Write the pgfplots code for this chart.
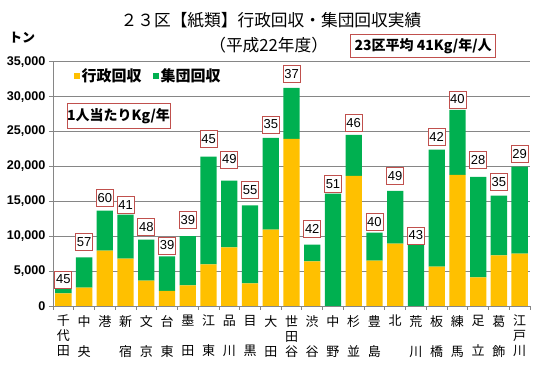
\documentclass[border=0pt]{standalone}
\usepackage{pgfplots}
\pgfplotsset{compat=1.18}
\usepackage{pgfplotstable}
\usepackage{fontspec}
\setmainfont{Liberation Sans}
\newfontfamily\cjk{Noto Sans CJK JP}
\definecolor{yel}{HTML}{FFC000}
\definecolor{grn}{HTML}{00B050}
\definecolor{grd}{HTML}{868686}
\definecolor{bxr}{HTML}{C0504D}
\newcommand\e{\phantom{国}}

\pgfplotstableread{
x gyosei shudan
0 1800 600
1 2650 4300
2 7950 5700
3 6800 6300
4 3650 5850
5 2150 4950
6 2950 7050
7 5950 15450
8 8400 9550
9 3250 11150
10 10950 13150
11 23950 7300
12 6400 2400
13 0 16100
14 18650 5850
15 6500 4000
16 8950 7550
17 0 8800
18 5650 16750
19 18800 9300
20 4100 14400
21 7250 8550
22 7500 12450
}\data

\pgfplotstableread{
x y v
0 3800 45
1 9140 57
2 15500 60
3 14500 41
4 11300 48
5 8670 39
6 12300 39
7 23900 45
8 21000 49
9 16600 55
10 26000 35
11 33300 37
12 11050 42
13 17500 51
14 26200 46
15 12100 40
16 18600 49
17 10100 43
18 24200 42
19 29600 40
20 20900 28
21 17800 35
22 21800 29
}\boxes

\begin{document}
\begin{tikzpicture}
\begin{axis}[name=ax,
  width=477pt, height=244.3pt, scale only axis,
  ybar stacked, bar width=0.786,
  xmin=-0.5, xmax=22.5, ymin=0, ymax=35000,
  axis x line*=bottom, axis y line*=left,
  axis line style={grd, line width=0.75pt, -},
  ytick={0,5000,...,35000},
  ymajorgrids, grid style={grd, line width=0.75pt},
  xtick={0,...,22},
  xticklabels={{千\\代\\田},{中\\\e\\央},{港},{新\\\e\\宿},{文\\\e\\京},{台\\\e\\東},{墨\\\e\\田},{江\\\e\\東},{品\\\e\\川},{目\\\e\\黒},{大\\\e\\田},{世\\田\\谷},{渋\\\e\\谷},{中\\\e\\野},{杉\\\e\\並},{豊\\\e\\島},{北},{荒\\\e\\川},{板\\\e\\橋},{練\\\e\\馬},{足\\\e\\立},{葛\\\e\\飾},{江\\戸\\川}},
  minor xtick={-0.5,0.5,...,22.5},
  major x tick style={draw=none},
  tick style={grd, line width=0.75pt},
  tick align=outside, major tick length=4pt, minor tick length=4pt,
  scaled y ticks=false,
  /pgf/number format/1000 sep={,},
  /pgf/number format/assume math mode=true,
  yticklabel style={font=\bfseries\fontsize{12.6}{14}\selectfont},
  xticklabel style={font=\cjk\fontsize{13}{15}\selectfont, align=center, anchor=north, inner sep=0pt, yshift=-5pt},
  legend columns=2,
  legend style={draw=none, fill=none, at={(rel axis cs:0.044,0.9415)}, anchor=west,
    inner xsep=0pt, inner ysep=0pt,
    font=\cjk\bfseries\fontsize{15}{17}\selectfont,
    nodes={inner sep=1.5pt},
    /tikz/column 2/.style={column sep=10pt}},
  clip=false,
]
\addplot[fill=yel, draw=none, legend image code/.code={\fill[yel] (0pt,-3pt) rectangle (6pt,3pt);}] table[x=x, y=gyosei] {\data};
\addlegendentry{行政回収}
\addplot[fill=grn, draw=none, legend image code/.code={\fill[grn] (0pt,-3pt) rectangle (6pt,3pt);}] table[x=x, y=shudan] {\data};
\addlegendentry{集団回収}
\end{axis}
\begin{axis}[
  width=477pt, height=244.3pt, scale only axis,
  xmin=-0.5, xmax=22.5, ymin=0, ymax=35000,
  hide axis, clip=false,
]
\addplot[draw=none, mark=none, nodes near coords, point meta=explicit symbolic,
  every node near coord/.append style={anchor=center, draw=bxr, fill=white, line width=0.75pt, inner sep=0.5pt, minimum width=17pt, minimum height=17pt, font=\fontsize{13}{15}\selectfont, text=black}]
  table[x=x, y=y, meta=v] {\boxes};
\node[font=\cjk\fontsize{16.7}{20}\selectfont] at (axis cs:10.01,40875) {２３区【紙類】行政回収・集団回収実績};
\node[font=\cjk\fontsize{16.7}{20}\selectfont] at (axis cs:9.9,37394) {（平成22年度）};
\node[font=\cjk\bfseries\fontsize{13}{15}\selectfont] at (axis cs:-1.99,38440) {トン};
\node[draw=bxr, fill=white, line width=0.75pt, minimum width=101pt, minimum height=24.5pt, inner sep=0pt, font=\cjk\bfseries\fontsize{14}{16}\selectfont] at (axis cs:2.66,27220) {1人当たりKg/年};
\node[draw=bxr, fill=white, line width=0.75pt, minimum width=145pt, minimum height=23.4pt, inner sep=0pt, font=\cjk\bfseries\fontsize{14}{16}\selectfont] at (axis cs:17.35,37250) {23区平均 41Kg/年/人};
\end{axis}
\pgfresetboundingbox
\path[use as bounding box] ([shift={(-53pt,-62pt)}]ax.south west) rectangle ([shift={(10pt,61.7pt)}]ax.north east);
\end{tikzpicture}
\end{document}
